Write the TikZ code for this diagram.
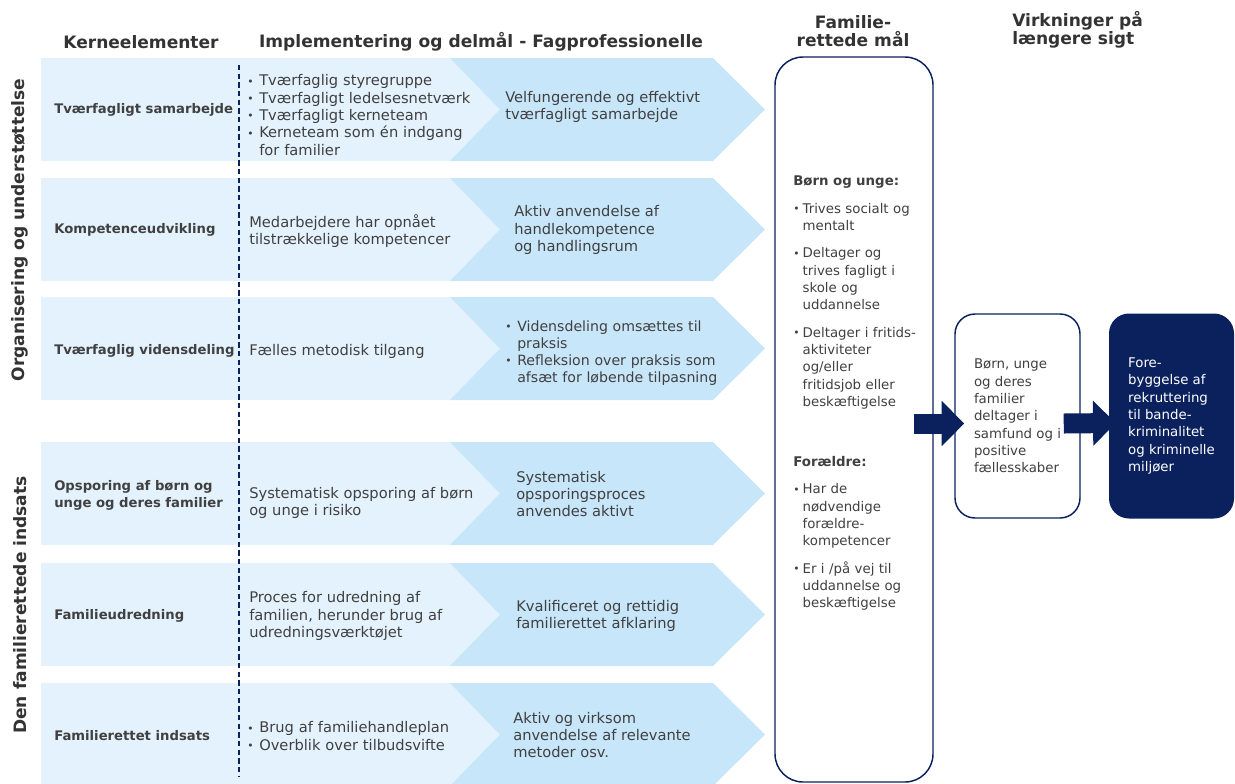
\documentclass[tikz,border=0pt]{standalone}
\usepackage{fontspec}
\setmainfont{DejaVu Sans}
\usetikzlibrary{positioning,calc,arrows.meta}
\definecolor{navy}{RGB}{10,33,94}
\definecolor{lysblaa}{RGB}{228,242,253}
\definecolor{chevblaa}{RGB}{200,230,250}
\definecolor{tekst}{RGB}{64,64,64}
\newlength\pktb
\setlength\pktb{9pt}
\newcommand\pkt[1][0pt]{\par\vspace{#1}\hangindent=\pktb\hangafter=1\noindent
   \makebox[\pktb][l]{\raisebox{0.1ex}{\footnotesize\textbullet}}\ignorespaces}

\begin{document}
\begin{tikzpicture}[x=0.75pt,y=-0.75pt,
   every node/.style={inner sep=0pt,text=tekst,font=\fontsize{11}{13}\selectfont},
   overskrift/.style={font=\bfseries\fontsize{12.8}{13.5}\selectfont,text=black!80},
   kerne/.style={anchor=west,align=left,font=\bfseries\fontsize{9.9}{12.8}\selectfont},
   felt/.style={anchor=west,align=left},
   punkter/.style={anchor=west,align=left,text width=#1},
   lille/.style={font=\fontsize{10}{13}\selectfont},
   malboks/.style={draw=navy,line width=1.1pt,rounded corners=21pt,minimum width=118.5pt,minimum height=543.75pt},
   effboks/.style={lille,draw=navy,fill=white,line width=1.1pt,rounded corners=15pt,minimum width=93.75pt,minimum height=153pt,align=left},
   foreboks/.style={lille,fill=navy,text=white,rounded corners=15pt,minimum width=93.75pt,minimum height=153.75pt,align=left},
   blokpil/.style={draw=navy,line width=15pt,-{Triangle[length=17pt,width=33pt]}}]
   \useasboundingbox (0,0) rectangle (1235,783);

   \foreach \t in {58,178,297,442,563,683}{
      \fill[lysblaa] (41,\t) rectangle (500,\t+103);
      \fill[chevblaa] (450,\t) -- (713,\t) -- (765,\t+51.5) -- (713,\t+103)
         -- (450,\t+103) -- (500,\t+51.5) -- cycle;
   }
   \draw[navy,line width=1.1pt,dash pattern=on 4pt off 2.5pt] (239,65) -- (239,776);

   \node[overskrift] (hk) at (141,42) {Kerneelementer};
   \node[overskrift] (hi) at (481,42) {Implementering og delmål - Fagprofessionelle};
   \node[overskrift,align=center] (hm) at (853,31) {Familie-\\rettede mål};
   \node[overskrift,align=left,anchor=west] (hv) at (1012,30) {Virkninger på\\længere sigt};
   \node[overskrift,rotate=90] (org) at (20,230) {Organisering og understøttelse};
   \node[overskrift,rotate=90] (fam) at (20,605) {Den familierettede indsats};

   \node[kerne] (k1) at (54,110) {Tværfagligt samarbejde};
   \node[kerne] (k2) at (54,230) {Kompetenceudvikling};
   \node[kerne] (k3) at (54,351) {Tværfaglig vidensdeling};
   \node[kerne] (k4) at (54,495) {Opsporing af børn og\\unge og deres familier};
   \node[kerne] (k5) at (54,616) {Familieudredning};
   \node[kerne] (k6) at (54,736) {Familierettet indsats};

   \node[punkter=180pt] (i1) at (247,112) {\pkt Tværfaglig styregruppe
      \pkt Tværfagligt ledelsesnetværk \pkt Tværfagligt kerneteam
      \pkt Kerneteam som én indgang\newline for familier\par};
   \node[felt] (i2) at (249,231) {Medarbejdere har opnået\\tilstrækkelige kompetencer};
   \node[felt] (i3) at (249,351) {Fælles metodisk tilgang};
   \node[felt] (i4) at (249,503) {Systematisk opsporing af børn\\og unge i risiko};
   \node[felt] (i5) at (249,616) {Proces for udredning af\\familien, herunder brug af\\udredningsværktøjet};
   \node[punkter=180pt] (i6) at (247,733) {\pkt Brug af familiehandleplan \pkt Overblik over tilbudsvifte\par};

   \node[felt] (d1) at (505,107) {Velfungerende og effektivt\\tværfagligt samarbejde};
   \node[felt] (d2) at (514,230) {Aktiv anvendelse af\\handlekompetence\\og handlingsrum};
   \node[punkter=190pt,font=\fontsize{10.6}{12.8}\selectfont] (d3) at (505,350) {\pkt Vidensdeling omsættes til\newline praksis
      \pkt Refleksion over praksis som\newline afsæt for løbende tilpasning\par};
   \node[felt] (d4) at (516,494) {Systematisk\\opsporingsproces\\anvendes aktivt};
   \node[felt] (d5) at (516,616) {Kvalificeret og rettidig\\familierettet afklaring};
   \node[felt] (d6) at (513,735) {Aktiv og virksom\\anvendelse af relevante\\metoder osv.};

   \node[malboks] (mal) at (854,419.5) {};
   \node[punkter=105pt,lille,anchor=north west] (bu) at (793,176) {\setlength\pktb{7pt}\textbf{Børn og unge:}
      \pkt[7.5pt] Trives socialt og\newline mentalt
      \pkt[7.5pt] Deltager og\newline trives fagligt i\newline skole og\newline uddannelse
      \pkt[7.5pt] Deltager i fritids-\newline aktiviteter\newline og/eller\newline fritidsjob eller\newline beskæftigelse\par};
   \node[punkter=105pt,lille,anchor=north west] (fo) at (793,456) {\setlength\pktb{7pt}\textbf{Forældre:}
      \pkt[7.5pt] Har de\newline nødvendige\newline forældre-\newline kompetencer
      \pkt[7.5pt] Er i /på vej til\newline uddannelse og\newline beskæftigelse\par};

   \node[effboks] (eff) at (1017.5,416) {Børn, unge\\og deres\\familier\\deltager i\\samfund og i\\positive\\fællesskaber};
   \node[foreboks,right=21pt of eff] (fore) {Fore-\\byggelse af\\rekruttering\\til bande-\\kriminalitet\\og kriminelle\\miljøer};

   \draw[blokpil] ($(mal.east)+(-20,4)$) -- ($(eff.west)+(10,7.5)$);
   \draw[blokpil] ($(eff.east)+(-17,7.5)$) -- ($(fore.west)+(7,7)$);
\end{tikzpicture}
\end{document}
